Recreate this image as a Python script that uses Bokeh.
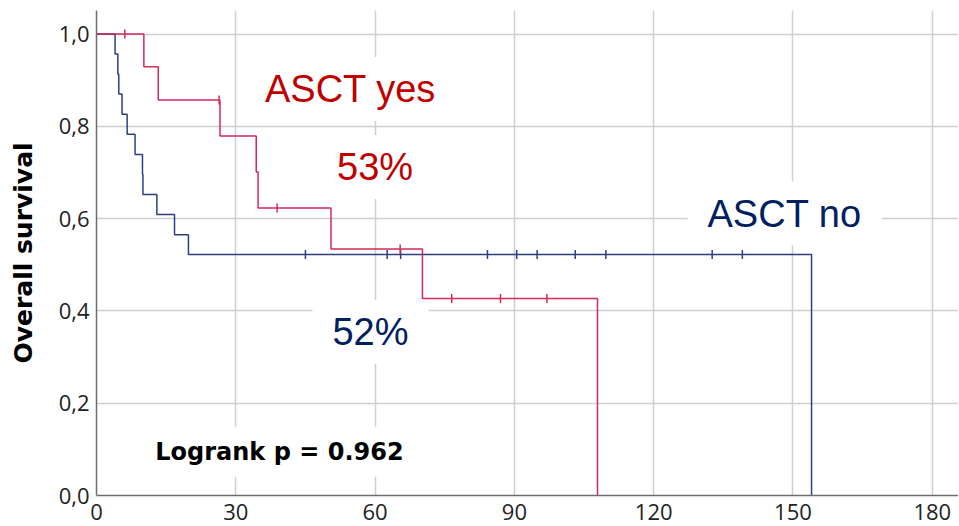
import numpy as np
from bokeh.plotting import figure
from bokeh.models import Range1d, FixedTicker, CustomJSTickFormatter, Label
from bokeh.embed import file_html
from bokeh.resources import INLINE

# ---- data ----
red_t = [0, 10.2, 13.3, 26.6, 34.4, 34.8, 50.5, 70.2, 107.9]
red_s = [1.0, 0.929, 0.857, 0.779, 0.701, 0.623, 0.534, 0.427, 0.0]
red_cens_t = [6.1, 26.4, 38.9, 65.4, 76.5, 87.0, 97.0]
red_cens_s = [1.0, 0.857, 0.623, 0.534, 0.427, 0.427, 0.427]

blue_t = [0, 4.0, 4.6, 4.8, 5.5, 6.6, 8.3, 9.9, 10.0, 13.0, 16.8, 19.8, 154.0]
blue_s = [1.0, 0.957, 0.913, 0.870, 0.826, 0.783, 0.739, 0.696, 0.652, 0.609, 0.565, 0.522, 0.0]
blue_cens_t = [45.0, 62.6, 65.5, 84.2, 90.5, 94.9, 103.1, 109.7, 132.6, 139.1]
blue_cens_s = [0.522, 0.522, 0.522, 0.522, 0.522, 0.522, 0.522, 0.522, 0.522, 0.522]

x_ticks = [0, 30, 60, 90, 120, 150, 180]
y_ticks = [0.0, 0.2, 0.4, 0.6, 0.8, 1.0]
y_label = "Overall survival"
group_yes = "ASCT yes"
group_no = "ASCT no"
pct_yes = "53%"
pct_no = "52%"
logrank = "Logrank p = 0.962"

RED = "#d42a5b"
BLUE = "#2e3f7f"
RED_TXT = "#c00000"
BLUE_TXT = "#002060"

p = figure(width=958, height=525,
           x_range=Range1d(0, 185.65), y_range=Range1d(0, 1.051),
           output_backend="svg", toolbar_location=None,
           min_border_left=96, min_border_right=0, min_border_top=10, min_border_bottom=30)
p.outline_line_color = None
p.background_fill_color = "white"

# grid
p.xgrid.ticker = FixedTicker(ticks=x_ticks)
p.ygrid.ticker = FixedTicker(ticks=y_ticks)
for g in (p.xgrid, p.ygrid):
    g.grid_line_color = "#cfcfcf"
    g.grid_line_width = 1.5
    g.level = "image"

# axes
p.xaxis.ticker = FixedTicker(ticks=x_ticks)
p.yaxis.ticker = FixedTicker(ticks=y_ticks)
p.yaxis.formatter = CustomJSTickFormatter(code="return tick.toFixed(1).replace('.', ',');")
for ax in (p.xaxis, p.yaxis):
    ax.axis_line_color = "#6e6e6e"
    ax.axis_line_width = 1.5
    ax.major_tick_line_color = None
    ax.minor_tick_line_color = None
    ax.major_tick_out = 0
    ax.major_tick_in = 0
    ax.major_label_text_font = "Open Sans"
    ax.major_label_text_font_size = "22px"
    ax.major_label_text_color = "#222222"
p.xaxis.major_label_standoff = 8
p.yaxis.major_label_standoff = 7
p.yaxis.axis_label = y_label
p.yaxis.axis_label_text_font = "DejaVu Sans"
p.yaxis.axis_label_text_font_style = "bold"
p.yaxis.axis_label_text_font_size = "25px"
p.yaxis.axis_label_text_color = "black"
p.yaxis.axis_label_standoff = 18

# curves
p.step(blue_t, blue_s, mode="after", line_color=BLUE, line_width=1.5)
p.step(red_t, red_s, mode="after", line_color=RED, line_width=1.5)
p.scatter(blue_cens_t, blue_cens_s, marker="dash", angle=np.pi / 2, size=9,
          line_color=BLUE, line_width=1.5)
p.scatter(red_cens_t, red_cens_s, marker="dash", angle=np.pi / 2, size=9,
          line_color=RED, line_width=1.5)

# labels with white boxes hiding the grid
def add_label(text, x, y, color, font, size, style="normal"):
    lab = Label(x=x, y=y, text=text, text_color=color, text_font=font,
                text_font_size=size, text_font_style=style,
                text_align="center", text_baseline="middle",
                background_fill_color="white",
                padding=dict(left=20, right=20, top=11, bottom=11),
                level="underlay")
    p.add_layout(lab)

add_label(group_yes, 54.7, 0.881, RED_TXT, "Liberation Sans", "38px")
add_label(pct_yes, 60.0, 0.712, RED_TXT, "Liberation Sans", "38px")
add_label(group_no, 148.2, 0.611, BLUE_TXT, "Liberation Sans", "38px")
add_label(pct_no, 59.0, 0.355, BLUE_TXT, "Liberation Sans", "38px")
add_label(logrank, 39.4, 0.095, "black", "DejaVu Sans", "24px", "bold")

open("out.html", "w").write(file_html(p, INLINE))
